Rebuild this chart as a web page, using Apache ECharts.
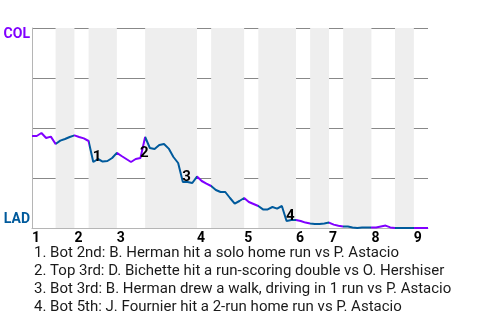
<!DOCTYPE html>
<html>
<head>
<meta charset="utf-8">
<script src="https://cdn.jsdelivr.net/npm/echarts@6/dist/echarts.min.js"></script>
<style>
html,body{margin:0;padding:0;background:#fff;}
#chart{width:480px;height:320px;}
</style>
</head>
<body>
<div id="chart"></div>
<script>
// ---- data ----
const teamTop = 'COL';
const teamBottom = 'LAD';
const innings = ['1','2','3','4','5','6','7','8','9'];
const inningStart = [0, 9, 18, 35, 45, 56, 63, 72, 81];
const halfStart = [0, 5, 9, 12, 18, 24, 35, 38, 45, 48, 56, 59, 63, 66, 72, 77, 81];
const lastEvent = 84;
// COL win probability after each event
const winProb = [
  0.46, 0.46, 0.475, 0.45, 0.457, 0.42, 0.437, 0.445, 0.455, 0.463,
  0.455, 0.448, 0.435, 0.33, 0.345, 0.332, 0.335, 0.35, 0.376, 0.36,
  0.345, 0.33, 0.345, 0.35, 0.455, 0.40, 0.395, 0.415, 0.42, 0.397,
  0.355, 0.325, 0.23, 0.23, 0.225, 0.257, 0.235, 0.222, 0.21, 0.19,
  0.18, 0.18, 0.15, 0.122, 0.135, 0.15, 0.13, 0.12, 0.11, 0.093,
  0.093, 0.105, 0.097, 0.11, 0.035, 0.04, 0.04, 0.035, 0.027, 0.022,
  0.02, 0.02, 0.023, 0.027, 0.017, 0.011, 0.007, 0.007, 0.003, 0.0,
  0.002, 0.002, 0.002, 0.002, 0.007, 0.012, 0.003, 0.0, 0.0, 0.0,
  0.0, 0.0, 0.0, 0.0, 0.0
];
const keyEvents = [13, 23, 32, 54];
const keyNotes = [
  'Bot 2nd: B. Herman hit a solo home run vs P. Astacio',
  'Top 3rd: D. Bichette hit a run-scoring double vs O. Hershiser',
  'Bot 3rd: B. Herman drew a walk, driving in 1 run vs P. Astacio',
  'Bot 5th: J. Fournier hit a 2-run home run vs P. Astacio'
];

// ---- styles ----
const PURPLE = '#8000ff';
const BLUE = '#005a9c';
const FONT = 'Roboto, sans-serif';

const pieces = halfStart.map((s, k) => ({
  gte: s,
  lt: k + 1 < halfStart.length ? halfStart[k + 1] : lastEvent + 1,
  color: k % 2 === 0 ? PURPLE : BLUE
}));
const bands = [];
for (let k = 1; k < halfStart.length; k += 2) {
  bands.push([{ xAxis: halfStart[k] }, { xAxis: k + 1 < halfStart.length ? halfStart[k + 1] : lastEvent }]);
}

const chart = echarts.init(document.getElementById('chart'), null, { renderer: 'canvas' });
chart.setOption({
  animation: false,
  textStyle: { fontFamily: FONT },
  title: {
    text: keyNotes.map((t, i) => (i + 1) + '. ' + t).join('\n'),
    left: 34,
    top: 244,
    padding: 0,
    textStyle: { fontSize: 15, fontWeight: 'normal', color: '#1a1a1a', lineHeight: 18, fontFamily: FONT }
  },
  grid: { left: 32, right: 52, top: 28, bottom: 92, containLabel: false },
  xAxis: {
    type: 'value', min: 0, max: lastEvent,
    axisLine: { show: true, lineStyle: { color: '#b5b5b5', width: 1 } },
    axisTick: { show: false },
    splitLine: { show: false },
    axisLabel: {
      customValues: inningStart,
      formatter: v => innings[inningStart.indexOf(v)],
      align: 'left', margin: 3,
      fontSize: 14, fontWeight: 'bold', color: '#000', fontFamily: FONT,
      showMinLabel: true, showMaxLabel: true
    }
  },
  yAxis: {
    type: 'value', min: 0, max: 1, interval: 0.25,
    axisLine: { show: true, lineStyle: { color: '#b5b5b5', width: 1 } },
    axisTick: { show: false },
    splitLine: { show: true, lineStyle: { color: ['transparent', '#888', '#888', '#888', '#888'], width: 1 } },
    axisLabel: {
      margin: 2,
      fontFamily: FONT, fontWeight: 'bold', fontSize: 14,
      formatter: v => v === 1 ? '{c|' + teamTop + '}' : (v === 0 ? '{l|' + teamBottom + '}' : ''),
      rich: {
        c: { color: PURPLE, fontWeight: 'bold', fontSize: 14, fontFamily: FONT, padding: [13, 0, 0, 0] },
        l: { color: BLUE, fontWeight: 'bold', fontSize: 14, fontFamily: FONT, padding: [0, 0, 17, 0] }
      }
    }
  },
  visualMap: {
    type: 'piecewise', show: false, dimension: 0, seriesIndex: 1,
    pieces: pieces
  },
  series: [
    {
      type: 'line', data: [], z: -1, silent: true,
      markArea: { silent: true, itemStyle: { color: '#eeeeee' }, data: bands }
    },
    {
      type: 'line', z: 3,
      data: winProb.map((v, i) => [i, v]),
      showSymbol: false,
      lineStyle: { width: 2 }
    },
    {
      type: 'scatter', z: 4, silent: true,
      symbolSize: 1,
      itemStyle: { color: '#000', opacity: 0 },
      data: keyEvents.map(i => [i, winProb[i]]),
      label: {
        show: true, position: [0, 0], align: 'left', verticalAlign: 'bottom',
        offset: [0, 3],
        formatter: p => String(p.dataIndex + 1),
        fontSize: 15, fontWeight: 'bold', color: '#000', opacity: 1, fontFamily: FONT
      }
    }
  ]
});
</script>
</body>
</html>
